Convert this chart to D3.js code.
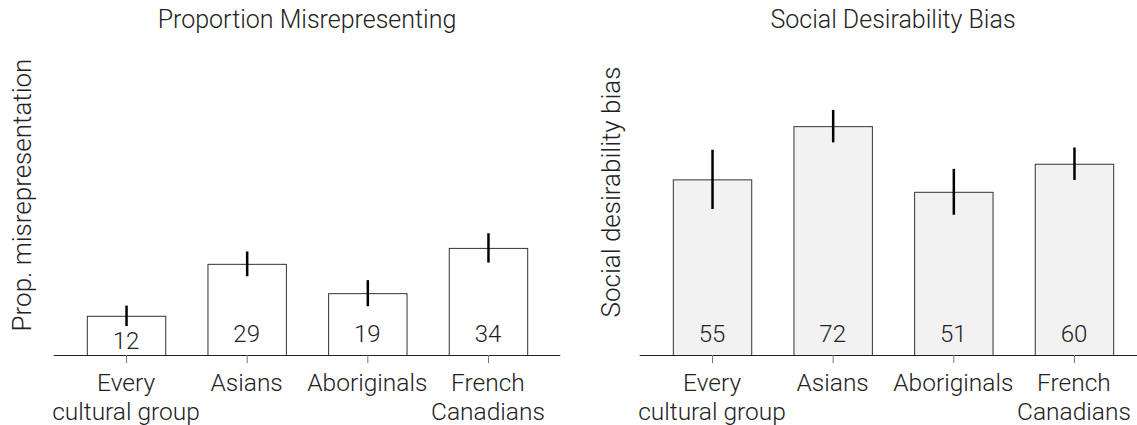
<!DOCTYPE html>
<html>
<head>
<meta charset="utf-8">
<script src="https://cdn.jsdelivr.net/npm/d3@7"></script>
<style>
  body { margin: 0; background: #fff; }
  text { font-family: Roboto, "Liberation Sans", sans-serif; font-weight: 300; fill: #222; }
</style>
</head>
<body>
<div id="chart"></div>
<script>
// data
var categories = [["Every", "cultural group"], ["Asians"], ["Aboriginals"], ["French", "Canadians"]];

var misValues = [12.3, 28.6, 19.4, 33.6];
var misLow = [9.1, 24.7, 15.3, 29.0];
var misHigh = [15.5, 32.5, 23.5, 38.2];
var misLabels = ["12", "29", "19", "34"];

var sdbValues = [55.1, 71.8, 51.2, 60.0];
var sdbLow = [45.8, 66.7, 44.0, 54.9];
var sdbHigh = [64.4, 76.9, 58.4, 65.1];
var sdbLabels = ["55", "72", "51", "60"];

var width = 1137,
	height = 425,
	baseY = 355;

var svg = d3.select("#chart").append("svg")
	.attr("width", width)
	.attr("height", height);

// same vertical scale for both panels
var yScale = d3.scaleLinear()
	.domain([0, 80])
	.range([baseY, 100]);

function drawPanel(opts) {
	var g = svg.append("g");

	var xScale = d3.scaleBand()
		.domain(d3.range(categories.length))
		.range(opts.range)
		.paddingInner(0.35)
		.paddingOuter(0.175);

	var bw = xScale.bandwidth();
	var mid = (opts.range[0] + opts.range[1]) / 2;

	// title
	g.append("text")
		.attr("x", mid)
		.attr("y", 28)
		.attr("text-anchor", "middle")
		.style("font-size", "25px")
		.text(opts.title);

	// y label
	g.append("text")
		.attr("transform", `translate(${opts.ylabX},${opts.ylabY}) rotate(-90)`)
		.attr("text-anchor", "middle")
		.style("font-size", "26px")
		.text(opts.ylab);

	// bars
	g.selectAll("rect.bar")
		.data(opts.values)
		.enter()
		.append("rect")
		.attr("class", "bar")
		.attr("x", function(d, i) { return xScale(i) + 0.5; })
		.attr("y", function(d) { return yScale(d) + 0.5; })
		.attr("width", bw)
		.attr("height", function(d) { return baseY - yScale(d); })
		.attr("fill", opts.fill)
		.attr("stroke", "#333")
		.attr("stroke-width", 1);

	// axis line
	g.append("line")
		.attr("x1", opts.range[0] - 12)
		.attr("x2", opts.range[1] + 12)
		.attr("y1", baseY + 0.5)
		.attr("y2", baseY + 0.5)
		.attr("stroke", "#222")
		.attr("stroke-width", 1.2);

	// ticks
	g.selectAll("line.tick")
		.data(opts.values)
		.enter()
		.append("line")
		.attr("class", "tick")
		.attr("x1", function(d, i) { return xScale(i) + bw / 2 + 0.5; })
		.attr("x2", function(d, i) { return xScale(i) + bw / 2 + 0.5; })
		.attr("y1", baseY)
		.attr("y2", baseY + 8)
		.attr("stroke", "#777")
		.attr("stroke-width", 1);

	// error bars
	g.selectAll("line.err")
		.data(opts.values)
		.enter()
		.append("line")
		.attr("class", "err")
		.attr("x1", function(d, i) { return xScale(i) + bw / 2 + 0.5; })
		.attr("x2", function(d, i) { return xScale(i) + bw / 2 + 0.5; })
		.attr("y1", function(d, i) { return yScale(opts.low[i]); })
		.attr("y2", function(d, i) { return yScale(opts.high[i]); })
		.attr("stroke", "#000")
		.attr("stroke-width", 2.5);

	// value labels inside bars (pushed down below the error bar when needed)
	g.selectAll("text.val")
		.data(opts.labels)
		.enter()
		.append("text")
		.attr("class", "val")
		.attr("x", function(d, i) { return xScale(i) + bw / 2; })
		.attr("y", function(d, i) { return Math.max(baseY - 13, yScale(opts.low[i]) + 23); })
		.attr("text-anchor", "middle")
		.style("font-size", "24px")
		.text(function(d) { return d; });

	// category labels, one text per line
	var lines = [];
	categories.forEach(function(c, i) {
		c.forEach(function(s, j) { lines.push({ s: s, i: i, j: j }); });
	});

	g.selectAll("text.cat")
		.data(lines)
		.enter()
		.append("text")
		.attr("class", "cat")
		.attr("x", function(d) { return xScale(d.i) + bw / 2; })
		.attr("y", function(d) { return 391 + d.j * 29; })
		.attr("text-anchor", "middle")
		.style("font-size", "24.5px")
		.text(function(d) { return d.s; });
}

drawPanel({
	title: "Proportion Misrepresenting",
	ylab: "Prop. misrepresentation",
	values: misValues, low: misLow, high: misHigh, labels: misLabels,
	range: [65.7, 548.3],
	fill: "#ffffff",
	ylabX: 31, ylabY: 195
});

drawPanel({
	title: "Social Desirability Bias",
	ylab: "Social desirability bias",
	values: sdbValues, low: sdbLow, high: sdbHigh, labels: sdbLabels,
	range: [651.7, 1134.3],
	fill: "#f2f2f2",
	ylabX: 620, ylabY: 192
});
</script>
</body>
</html>
